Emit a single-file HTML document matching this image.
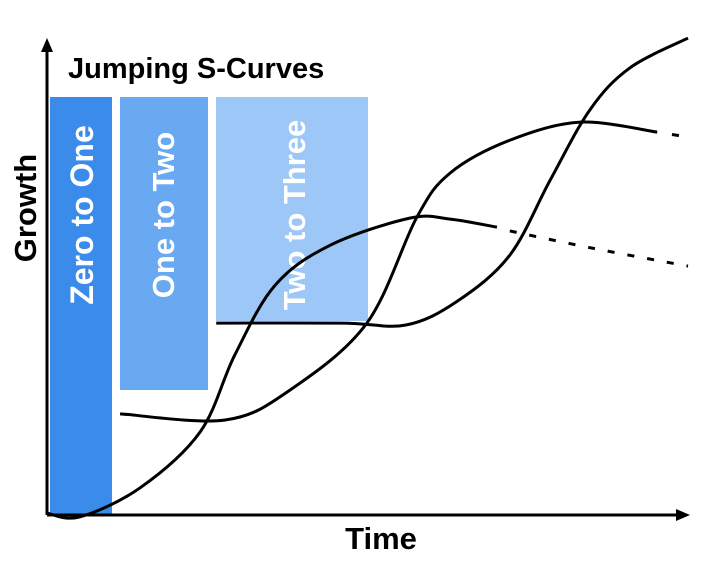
<!DOCTYPE html>
<html><head><meta charset="utf-8"><style>
html,body{margin:0;padding:0;background:#fff;}
svg{display:block;font-family:"Liberation Sans",sans-serif;}
</style></head><body>
<svg width="707" height="562" viewBox="0 0 707 562">
<rect x="50" y="97" width="62" height="418" fill="#3b8bea"/>
<rect x="120" y="97" width="88" height="293" fill="#69a9f1"/>
<rect x="216" y="97" width="152" height="224" fill="#9dc7f6"/>
<text transform="translate(93,215) rotate(-90)" text-anchor="middle" font-size="32" font-weight="bold" fill="#fff">Zero to One</text>
<text transform="translate(174,215) rotate(-90)" text-anchor="middle" font-size="31" font-weight="bold" fill="#fff">One to Two</text>
<text transform="translate(305,215) rotate(-90)" text-anchor="middle" font-size="31" font-weight="bold" fill="#fff">Two to Three</text>
<text x="68" y="78" font-size="29" font-weight="bold" fill="#000">Jumping S-Curves</text>
<text transform="translate(36,208) rotate(-90)" text-anchor="middle" font-size="31" font-weight="bold">Growth</text>
<text x="381" y="549" text-anchor="middle" font-size="31" font-weight="bold">Time</text>
<line x1="47" y1="515" x2="47" y2="48" stroke="#000" stroke-width="3"/>
<polygon points="47,38 41,52 53,52" fill="#000"/>
<line x1="47" y1="515" x2="678" y2="515" stroke="#000" stroke-width="3"/>
<polygon points="690,515 676,509 676,521" fill="#000"/>
<g id="curves"></g>
</svg>
<script>
const curve1T=[0,5.1,14.5,23.9,29.3,35.6,44.2,56.6,62.9,70.2];
const curve1G=[0.4,-0.4,5.7,17.5,33.7,48.4,56.8,62.5,62.3,60.6];
const curve1DashT=[72.2,85,100];
const curve1DashG=[59.8,56.2,52.4];
const curve2T=[11.4,27.8,37.9,49.9,57.7,62.9,72.2,83.2,95.2];
const curve2G=[21.3,20.0,26.3,40.4,62.7,72.0,78.9,82.7,80.6];
const curve2DashT=[97.5,99.5];
const curve2DashG=[80.1,79.7];
const curve3T=[26.4,46.0,56.0,64.0,72.2,78.5,84.7,90.9,100];
const curve3G=[40.4,40.4,40.0,45.0,54.7,70.5,85.3,94.1,100.4];

function xs(t){return 47+t*6.41;}
function ys(g){return 515-g*4.75;}
function pathFrom(T,G){
  const p=T.map((t,i)=>[xs(t),ys(G[i])]);
  let d='M'+p[0][0]+','+p[0][1];
  for(let i=0;i<p.length-1;i++){
    const p0=p[i-1]||p[i],p1=p[i],p2=p[i+1],p3=p[i+2]||p[i+1];
    const c1x=p1[0]+(p2[0]-p0[0])/6,c1y=p1[1]+(p2[1]-p0[1])/6;
    const c2x=p2[0]-(p3[0]-p1[0])/6,c2y=p2[1]-(p3[1]-p1[1])/6;
    d+=' C'+c1x+','+c1y+' '+c2x+','+c2y+' '+p2[0]+','+p2[1];
  }
  return d;
}
const g=document.getElementById('curves');
function add(T,G,name,dash){
  const el=document.createElementNS('http://www.w3.org/2000/svg','path');
  el.setAttribute('d',pathFrom(T,G));
  el.setAttribute('fill','none');
  el.setAttribute('stroke','#000');
  el.setAttribute('stroke-width','3');
  if(dash)el.setAttribute('stroke-dasharray','7 13');
  
  
  g.appendChild(el);
}
add(curve1T,curve1G,'curve-zero-to-one',false);
add(curve1DashT,curve1DashG,'curve-zero-to-one-projection',true);
add(curve2T,curve2G,'curve-one-to-two',false);
add(curve2DashT,curve2DashG,'curve-one-to-two-projection',true);
add(curve3T,curve3G,'curve-two-to-three',false);
</script>
</body></html>
